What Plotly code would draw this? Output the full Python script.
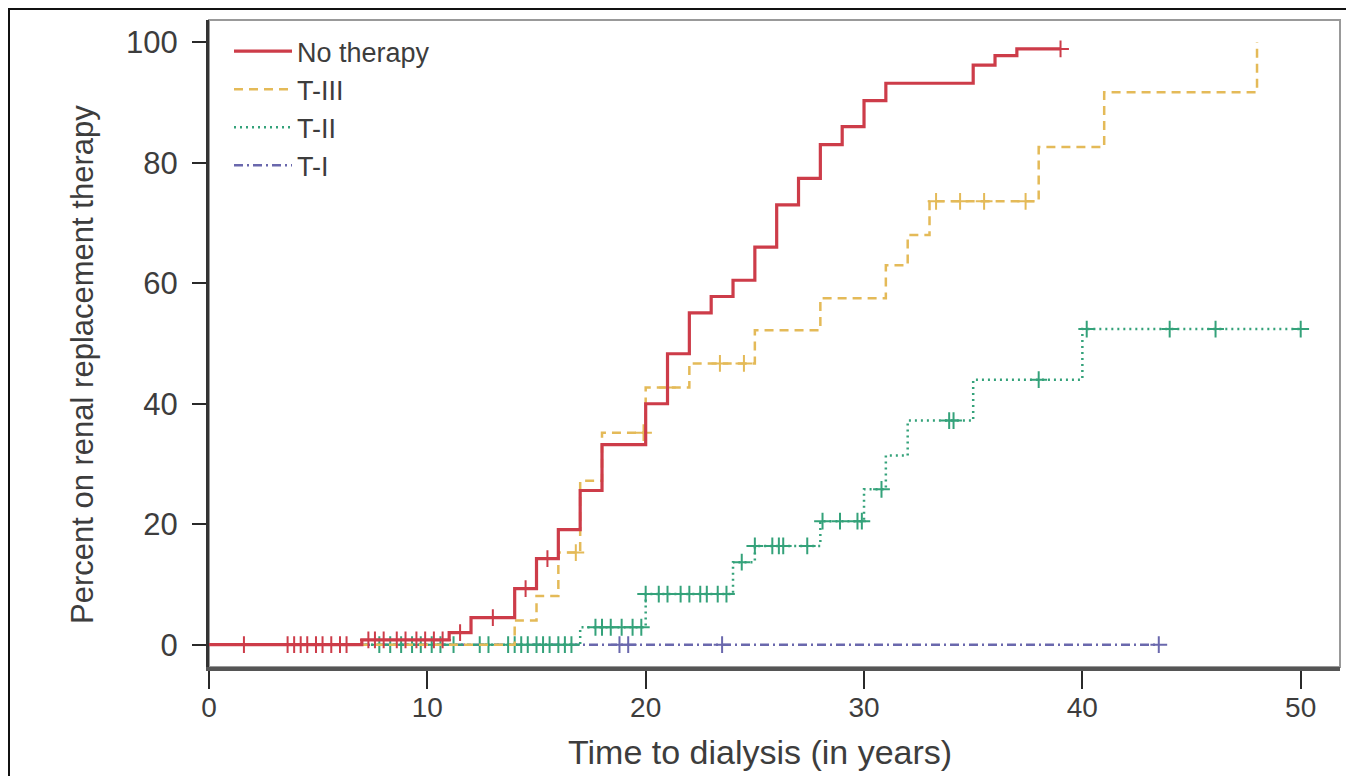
import numpy as np
import plotly.graph_objects as go

# ---------------- data ----------------
groups = ["No therapy", "T-III", "T-II", "T-I"]

# No therapy
nt_times = [0, 7, 11, 12, 14, 15, 16, 17, 18, 20, 21, 22, 23, 24, 25, 26, 27, 28, 29, 30, 31, 35, 36, 37, 39]
nt_pct = [0, 0.8, 2.0, 4.5, 9.3, 14.3, 19.1, 25.6, 33.2, 40.0, 48.3, 55.1, 57.8, 60.5, 66.0, 73.0,
          77.4, 83.0, 86.0, 90.3, 93.2, 96.2, 97.8, 98.9, 98.9]
nt_cens = [1.6, 3.6, 3.9, 4.2, 4.5, 4.9, 5.2, 5.6, 6.0, 6.3, 7.3, 7.6, 8.0, 8.6, 9.0, 9.5, 9.9,
           10.3, 10.7, 11.5, 13.0, 14.5, 15.5, 39.0]

# T-III
t3_times = [0, 14, 15, 16, 17, 18, 20, 22, 25, 28, 31, 32, 33, 38, 41, 48]
t3_pct = [0, 4.0, 8.1, 15.3, 27.2, 35.2, 42.7, 46.7, 52.2, 57.5, 63.0, 68.0, 73.6, 82.6, 91.7, 100]
t3_cens = [16.8, 19.9, 21.0, 23.4, 24.5, 33.3, 34.4, 35.5, 37.4]

# T-II
t2_times = [0, 17, 20, 24, 25, 28, 30, 31, 32, 35, 40, 50]
t2_pct = [0, 2.9, 8.4, 13.7, 16.4, 20.5, 25.8, 31.4, 37.2, 44.0, 52.4, 52.4]
t2_cens = [7.8, 8.3, 8.8, 9.3, 9.7, 10.2, 10.6, 11.2, 12.4, 12.8, 13.7, 14.0, 14.3, 14.6, 15.0,
           15.3, 15.6, 16.0, 16.3, 16.6, 17.7, 18.0, 18.4, 18.9, 19.4, 19.8, 20.0, 20.6, 21.0,
           21.6, 22.0, 22.5, 22.8, 23.3, 23.7, 24.4, 25.0, 25.8, 26.1, 26.3, 27.4, 28.1, 28.9,
           29.7, 29.9, 30.8, 33.9, 34.1, 38.0, 40.2, 44.0, 46.1, 50.0]

# T-I
t1_times = [0, 43.5]
t1_pct = [0, 0]
t1_cens = [18.8, 19.2, 23.5, 43.5]

x_ticks = [0, 10, 20, 30, 40, 50]
y_ticks = [0, 20, 40, 60, 80, 100]
x_title = "Time to dialysis (in years)"
y_title = "Percent on renal replacement therapy"

# ---------------- styles ----------------
colors = {"No therapy": "#cd3c49", "T-III": "#e4ba58", "T-II": "#34a27a", "T-I": "#6a68ad"}
dashes = {"No therapy": "solid", "T-III": "9px,6px", "T-II": "2px,4px", "T-I": "9px,4px,2px,4px"}
widths = {"No therapy": 3.2, "T-III": 2.5, "T-II": 2.5, "T-I": 2.5}
ranks = {"No therapy": 1, "T-III": 2, "T-II": 3, "T-I": 4}

series = {
    "No therapy": (nt_times, nt_pct, nt_cens),
    "T-III": (t3_times, t3_pct, t3_cens),
    "T-II": (t2_times, t2_pct, t2_cens),
    "T-I": (t1_times, t1_pct, t1_cens),
}


def step_value(times, pct, t):
    idx = np.searchsorted(np.asarray(times), t, side="right") - 1
    return [pct[i] for i in idx]


fig = go.Figure()
for name in ["T-I", "T-II", "T-III", "No therapy"]:
    times, pct, cens = series[name]
    fig.add_trace(go.Scatter(
        x=times, y=pct, mode="lines", name=name, legendrank=ranks[name],
        line=dict(color=colors[name], width=widths[name], dash=dashes[name], shape="hv"),
    ))
    fig.add_trace(go.Scatter(
        x=cens, y=step_value(times, pct, np.asarray(cens)), mode="markers", showlegend=False,
        marker=dict(symbol="cross-thin", size=12, line=dict(color=colors[name], width=2)),
        hoverinfo="skip",
    ))

# ---------------- layout ----------------
# page body has an 8px margin, so the figure is placed at (8, 8) in the window
OFF = 8
W, H = 1354 - OFF, 776 - OFF
L, T = 209 - OFF, 20 - OFF
R = W - (1340 - OFF)
B = H - (667 - OFF)
pw, ph = W - L - R, H - T - B


def px(p):  # screen pixel -> paper x
    return (p - OFF - L) / pw


def py(q):  # screen pixel -> paper y
    return (H - B - (q - OFF)) / ph


font_family = "Liberation Sans, Arial, sans-serif"
txt = "#3d3d3d"
fig.update_layout(
    width=W, height=H,
    margin=dict(l=L, r=R, t=T, b=B, autoexpand=False),
    paper_bgcolor="white", plot_bgcolor="white",
    font=dict(family=font_family, color=txt),
    showlegend=True,
    legend=dict(x=px(229), y=py(27), xanchor="left", yanchor="top", bgcolor="rgba(255,255,255,0)",
                font=dict(size=27, color=txt), itemwidth=58, tracegroupgap=0),
    xaxis=dict(range=[0, 51.8], tickvals=x_ticks, ticks="outside", ticklen=18, tickwidth=2,
               tickcolor="#2a2a2a", showline=True, linecolor="#555555", linewidth=4,
               showgrid=False, zeroline=False, tickfont=dict(size=28, color=txt),
               ticklabelstandoff=-6),
    yaxis=dict(range=[-3.7, 103.7], tickvals=y_ticks, ticks="outside", ticklen=14, tickwidth=2,
               tickcolor="#2a2a2a", showline=True, linecolor="#333333", linewidth=3,
               showgrid=False, zeroline=False, tickfont=dict(size=31, color=txt),
               ticklabelstandoff=8),
    annotations=[
        dict(text=x_title, xref="paper", yref="paper", x=px(760), y=py(752),
             xanchor="center", yanchor="middle", showarrow=False,
             font=dict(size=34, color=txt, family=font_family)),
        dict(text=y_title, xref="paper", yref="paper", x=px(82), y=py(365), textangle=-90,
             xanchor="center", yanchor="middle", showarrow=False,
             font=dict(size=31, color=txt, family=font_family)),
    ],
    shapes=[
        dict(type="rect", xref="paper", yref="paper", x0=0, x1=1, y0=0, y1=1,
             line=dict(color="#999999", width=2), layer="below"),
        dict(type="rect", xref="paper", yref="paper", x0=px(9), x1=px(1352), y0=py(800), y1=py(9),
             line=dict(color="#111111", width=2), layer="above"),
    ],
)

fig.write_html("out.html")
